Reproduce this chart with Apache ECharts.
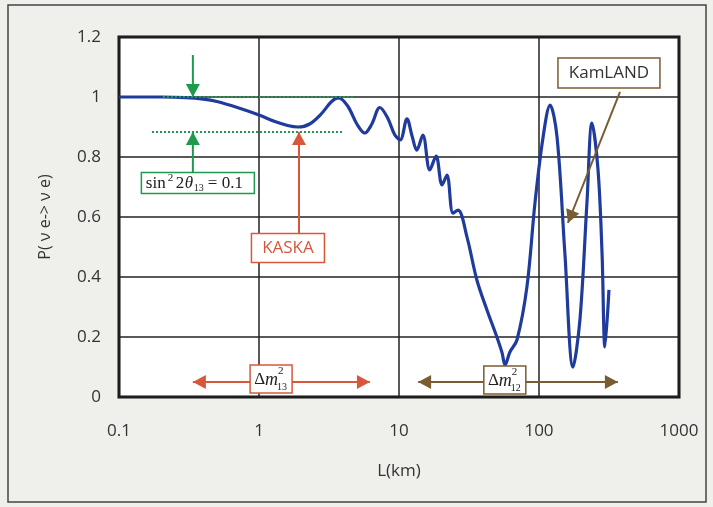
<!DOCTYPE html>
<html>
<head>
<meta charset="utf-8">
<script src="https://cdn.jsdelivr.net/npm/echarts@6/dist/echarts.min.js"></script>
<style>
    html, body { margin: 0; padding: 0; background: #efefec; }
    #main { width: 713px; height: 507px; }
</style>
</head>
<body>
<div id="main"></div>
<script>
// 距离 L(km)
var distances = [0.1, 0.2, 0.3, 0.4, 0.5, 0.7, 1.0, 1.3, 1.6, 1.9, 2.3, 2.8, 3.3, 3.7, 4.3, 5.0, 5.7, 6.4, 7.3, 8.3, 9.3,
    10.2, 11.4, 12.4, 13.4, 14.8, 16.6, 18.4, 20.3, 22, 24.3, 26.4, 30.6, 36, 42.5, 50, 54.5, 57.2, 62, 69.6, 82, 93.6,
    107, 120, 134.5, 153, 175, 196, 220, 239, 264, 282, 296, 316];
// 存活概率 P(νe -> νe)
var probs = [1.0, 1.0, 0.998, 0.993, 0.985, 0.965, 0.94, 0.918, 0.905, 0.9, 0.91, 0.945, 0.985, 0.997, 0.97, 0.91, 0.88, 0.91, 0.965, 0.93, 0.875,
    0.857, 0.927, 0.87, 0.823, 0.873, 0.757, 0.803, 0.707, 0.74, 0.613, 0.623, 0.533, 0.39, 0.29, 0.2, 0.147, 0.107, 0.15, 0.19, 0.367, 0.647,
    0.867, 0.973, 0.867, 0.48, 0.1, 0.257, 0.647, 0.913, 0.757, 0.48, 0.167, 0.357];
var xTicks = [0.1, 1, 10, 100, 1000];
var yTicks = [0, 0.2, 0.4, 0.6, 0.8, 1, 1.2];

// 参考线 (sin^2 2θ13 = 0.1)
var upperLevel = 1.0, lowerLevel = 0.883;

var GREEN = '#1e9a4c', RED = '#d8573c', BROWN = '#7a5c32', BLUE = '#1f3c9c';

var curve = [];
for (var i = 0; i < distances.length; i++) {
    curve.push([distances[i], probs[i]]);
}

var chartDom = document.getElementById('main');
var myChart = echarts.init(chartDom);

var option = {
    backgroundColor: '#efefec',
    animation: false,
    grid: {
        left: 119, right: 34, top: 37, bottom: 110,
        show: true, backgroundColor: '#ffffff', borderColor: '#111', borderWidth: 3
    },
    xAxis: {
        type: 'log', logBase: 10, min: xTicks[0], max: xTicks[xTicks.length - 1],
        name: 'L(km)', nameLocation: 'middle', nameGap: 66,
        nameTextStyle: { fontFamily: 'Open Sans', fontSize: 17, color: '#333' },
        axisLine: { show: false },
        axisTick: { show: false },
        axisLabel: {
            fontFamily: 'Open Sans', fontSize: 17, color: '#333', margin: 26,
            formatter: function (v) { return String(v); }
        },
        splitLine: { show: true, lineStyle: { color: '#222', width: 1.5 } },
        minorSplitLine: { show: false }
    },
    yAxis: {
        type: 'value', min: yTicks[0], max: yTicks[yTicks.length - 1], interval: 0.2,
        name: 'P( \u03bd e-> \u03bd e)', nameLocation: 'middle', nameGap: 66,
        nameTextStyle: { fontFamily: 'Open Sans', fontSize: 16, color: '#333' },
        axisLine: { show: false },
        axisTick: { show: false },
        axisLabel: {
            fontFamily: 'Open Sans', fontSize: 17, color: '#333', margin: 18,
            formatter: function (v) { return String(Math.round(v * 10) / 10); }
        },
        splitLine: { show: true, lineStyle: { color: '#222', width: 1.5 } }
    },
    series: [{
        type: 'line',
        data: curve,
        smooth: 0.35,
        symbol: 'none',
        lineStyle: { color: BLUE, width: 3.2 },
        markLine: {
            silent: true,
            symbol: 'none',
            label: { show: false },
            lineStyle: { color: GREEN, type: [2, 2], width: 2 },
            data: [
                [{ coord: [0.206, upperLevel] }, { coord: [4.69, upperLevel] }],
                [{ coord: [0.172, lowerLevel] }, { coord: [3.98, lowerLevel] }]
            ]
        }
    }]
};

myChart.setOption(option);

// 标注: 数据坐标 -> 像素
function px(x, y) {
    return myChart.convertToPixel({ xAxisIndex: 0, yAxisIndex: 0 }, [x, y]);
}

function arrow(a, b, color, heads) {
    var els = [{
        type: 'line', shape: { x1: a[0], y1: a[1], x2: b[0], y2: b[1] },
        style: { stroke: color, lineWidth: 2 }, z: 100
    }];
    var ends = heads === 2 ? [[b, a], [a, b]] : [[a, b]];
    ends.forEach(function (e) {
        var p = e[0], q = e[1];
        var ang = Math.atan2(q[1] - p[1], q[0] - p[0]);
        var L = 13, W = 7;
        var bx = q[0] - L * Math.cos(ang), by = q[1] - L * Math.sin(ang);
        els.push({
            type: 'polygon',
            shape: { points: [q, [bx + W * Math.sin(ang), by - W * Math.cos(ang)], [bx - W * Math.sin(ang), by + W * Math.cos(ang)]] },
            style: { fill: color }, z: 101
        });
    });
    return els;
}

function box(c, w, h, color) {
    return {
        type: 'rect', shape: { x: c[0] - w / 2, y: c[1] - h / 2, width: w, height: h },
        style: { fill: '#fff', stroke: color, lineWidth: 1.5 }, z: 102
    };
}

function label(c, text, color, font) {
    return {
        type: 'text', x: c[0], y: c[1], z: 103,
        style: { text: text, fill: color, font: font, align: 'center', verticalAlign: 'middle' }
    };
}

function piece(x, y, text, font, align) {
    return {
        type: 'text', x: x, y: y, z: 103,
        style: { text: text, fill: '#222', font: font, align: align || 'left', verticalAlign: 'middle' }
    };
}

// Δm² 标签 (上标2和下标叠放)
function dm(c, sub, color) {
    return [
        box(c, 42, 28, color),
        piece(c[0] - 6, c[1] + 1, '\u0394', '17px "Liberation Serif"', 'right'),
        piece(c[0] - 6, c[1] + 1, 'm', 'italic 18px "Liberation Serif"'),
        piece(c[0] + 7, c[1] - 8, '2', '11px "Liberation Serif"'),
        piece(c[0] + 6, c[1] + 8, sub, '10px "Liberation Serif"')
    ];
}

var els = [];
// 外框
els.push({ type: 'rect', shape: { x: 8, y: 5, width: 698, height: 497 }, style: { fill: 'none', stroke: '#444', lineWidth: 1.5 }, z: 0 });

// 绿色 sin²2θ13
var xs = px(0.337, 0)[0];
var sinY = px(0.337, 0.747)[1] + 10;
els = els.concat(arrow(px(0.337, 1.14), px(0.337, upperLevel), GREEN));
els = els.concat(arrow([xs, sinY - 10], px(0.337, lowerLevel), GREEN));
var sinX = xs + 5;
els.push(box([sinX, sinY], 113, 21, GREEN));
var sx = sinX - 52;
var F17 = '17px "Liberation Serif"';
els.push(piece(sx, sinY + 1, 'sin', F17));
els.push(piece(sx + 22, sinY - 5, '2', '11px "Liberation Serif"'));
els.push(piece(sx + 30, sinY + 1, '2', F17));
els.push(piece(sx + 39, sinY + 1, '\u03b8', 'italic 17px "Liberation Serif"'));
els.push(piece(sx + 48, sinY + 5, '13', '10px "Liberation Serif"'));
els.push(piece(sx + 62, sinY + 1, '= 0.1', F17));

// KASKA
var kaskaC = px(1.61, 0.497);
els = els.concat(arrow([px(1.93, 0)[0], kaskaC[1] - 14], px(1.93, lowerLevel), RED));
els.push(box(kaskaC, 73, 29, RED));
els.push(label(kaskaC, 'KASKA', RED, '17px "Open Sans"'));

// Δm²13
var y13 = px(1, 0.05)[1];
els = els.concat(arrow([px(0.337, 0)[0], y13], [px(6.2, 0)[0], y13], RED, 2));
els = els.concat(dm(px(1.22, 0.06), '13', RED));

// Δm²12
els = els.concat(arrow([px(13.7, 0)[0], y13], [px(366, 0)[0], y13], BROWN, 2));
els = els.concat(dm(px(57, 0.057), '12', BROWN));

// KamLAND
var kamC = px(316, 1.08);
els = els.concat(arrow(px(379, 1.017), px(161, 0.58), BROWN));
els.push(box(kamC, 102, 30, BROWN));
els.push(label(kamC, 'KamLAND', '#333', '17px "Open Sans"'));

myChart.setOption({ graphic: { elements: els } });
</script>
</body>
</html>
